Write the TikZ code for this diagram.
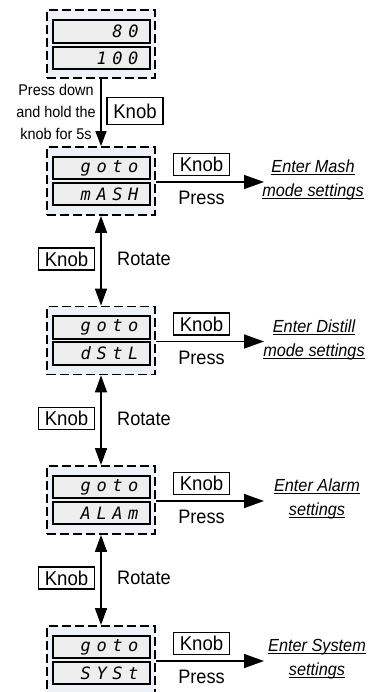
\documentclass[tikz,border=0pt]{standalone}
\usepackage{fontspec}
\setmainfont{Liberation Sans}[FakeStretch=0.93]
\newfontfamily\segfont{DejaVu Sans Mono}[LetterSpace=33]
\usetikzlibrary{arrows.meta}
\definecolor{bgblue}{HTML}{EEF2F8}
\definecolor{dispgray}{HTML}{EEEEEE}
\newcommand\myul[1]{\setbox0\hbox{#1}\leavevmode\rlap{\rule[-2.6pt]{\wd0}{0.9pt}}\box0}
\tikzset{
  outerbox/.style={draw, dash pattern=on 9pt off 4pt, line width=1.8pt, fill=bgblue, minimum width=108pt, minimum height=68pt, inner sep=0pt},
  disp/.style={draw, line width=1.8pt, fill=dispgray, minimum width=97pt, minimum height=22.5pt, text width=74pt, align=right, inner sep=0pt, font=\segfont\itshape\fontsize{17}{17}\selectfont},
  knob/.style={draw, line width=1.4pt, fill=white, minimum width=56pt, minimum height=22pt, inner sep=0pt, font=\fontsize{20}{20}\selectfont},
  lbl/.style={inner sep=0pt, font=\fontsize{19.5}{20}\selectfont},
  small/.style={inner sep=0pt, align=center, font=\fontsize{15.5}{22}\selectfont},
  enter/.style={inner sep=0pt, align=center, font=\itshape\fontsize{17.5}{24}\selectfont},
  conn/.style={line width=1.5pt},
  arr/.style={conn, -{Triangle[length=15pt,width=11pt]}},
  darr/.style={conn, {Triangle[length=17pt,width=12pt]}-{Triangle[length=17pt,width=12pt]}},
  harr/.style={conn, -{Triangle[length=20pt,width=14pt]}}
}
\begin{document}
\begin{tikzpicture}[x=1pt,y=-1pt]
\useasboundingbox (0,0) rectangle (370,692);
% first box
\node[outerbox] (box1) at (101,44) {};
\node[disp] (dA1) at (101.5,31.5) {80};
\node[disp] (dB1) at (101.5,58) {100};
\node[small] (lbl1) at (56,112) {Press down\\and hold the\\knob for 5s};
\node[knob, minimum height=27pt] (k1) at (135,111) {Knob};
% setting boxes
\foreach \n/\t/\tp in {2/mASH/147, 3/dStL/306.5, 4/ALAm/466, 5/SYSt/626} {
  \node[outerbox] (box\n) at (101,\tp+34) {};
  \node[disp] (dA\n) at (101.5,\tp+21) {goto};
  \node[disp] (dB\n) at (101.5,\tp+47) {\t};
  \node[knob] (kp\n) at (201.5,\tp+17.5) {Knob};
  \node[lbl] (pr\n) at (201.5,\tp+51) {Press};
  \coordinate (tip\n) at (264,\tp+35);
  \draw[harr] (box\n.east |- tip\n) -- (tip\n);
}
\node[enter] (enA) at (313,180) {\myul{Enter Mash}\\\myul{mode settings}};
\node[enter] (enB) at (314,339.5) {\myul{Enter Distill}\\\myul{mode settings}};
\node[enter] (enC) at (317,499) {\myul{Enter Alarm}\\\myul{settings}};
\node[enter] (enD) at (317,659) {\myul{Enter System}\\\myul{settings}};
% connectors
\draw[arr] (box1.south) -- (box2.north);
\draw[darr] (box2.south) -- (box3.north);
\draw[darr] (box3.south) -- (box4.north);
\draw[darr] (box4.south) -- (box5.north);
% rotate labels
\foreach \m/\y in {a/259, b/418.5, c/578} {
  \node[knob] (kl\m) at (66.5,\y) {Knob};
  \node[lbl, anchor=west] (rot\m) at (117,\y) {Rotate};
}
\end{tikzpicture}
\end{document}
